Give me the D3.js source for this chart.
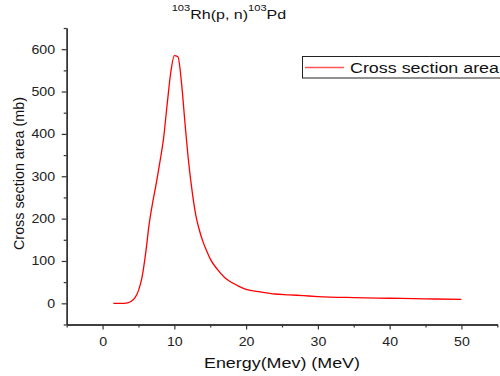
<!DOCTYPE html>
<html>
<head>
<meta charset="utf-8">
<script src="https://cdn.jsdelivr.net/npm/d3@7"></script>
<style>
  html, body { margin: 0; padding: 0; background: #fff; }
  svg { display: block; font-family: "Liberation Sans", Arial, sans-serif; }
</style>
</head>
<body>
<svg id="chart" width="500" height="376"></svg>
<script>
const energy = [1.5, 2, 3, 3.5, 4, 4.5, 5, 5.5, 6, 6.5, 7, 7.5, 8, 8.5, 9, 9.5, 10, 10.5, 11, 11.5, 12, 12.5, 13, 13.5, 14, 14.5, 15, 16, 17, 18, 19, 20, 22, 24, 26, 28, 30, 35, 40, 45, 50];
const crossSection = [0, 0, 0, 1, 5, 13, 30, 62, 118, 188, 240, 285, 335, 390, 470, 545, 585, 582, 520, 422, 332, 262, 207, 172, 145, 124, 105, 80, 61, 49, 40, 33, 27, 22, 20, 18, 16, 13.5, 12, 10.5, 9.5];
const xMajorTicks = [0, 10, 20, 30, 40, 50];
const xMinorTicks = [-5, 5, 15, 25, 35, 45, 55];
const yMajorTicks = [0, 100, 200, 300, 400, 500, 600];
const yMinorTicks = [-50, 50, 150, 250, 350, 450, 550, 650];
const titleParts = [["103", true], ["Rh(p, n)", false], ["103", true], ["Pd", false]];
const xTitle = "Energy(Mev) (MeV)";
const yTitle = "Cross section area (mb)";
const legendLabel = "Cross section area";

const svg = d3.select("#chart");
const SX = 1.18;
const axisColor = "#333";

const x = d3.scaleLinear().domain([-5, 55]).range([66.7, 497.3]);
const y = d3.scaleLinear().domain([-50, 650]).range([324.5, 28]);

// Axes
function styleAxis(g) {
  g.selectAll(".domain").attr("stroke", axisColor).attr("stroke-width", 1.4);
  g.selectAll(".tick line").attr("stroke", axisColor).attr("stroke-width", 1.2);
}

const yMinor = svg.append("g").attr("transform", `translate(${x(-5)},0)`)
  .call(d3.axisLeft(y).tickValues(yMinorTicks).tickSize(3).tickSizeOuter(0).tickFormat(""));
styleAxis(yMinor);
const yMajor = svg.append("g").attr("transform", `translate(${x(-5)},0)`)
  .call(d3.axisLeft(y).tickValues(yMajorTicks).tickSize(5).tickSizeOuter(0).tickPadding(6.5));
styleAxis(yMajor);
yMajor.selectAll(".tick text")
  .attr("font-size", 12).attr("font-family", "Liberation Sans, Arial, sans-serif")
  .attr("fill", "#222")
  .attr("x", -11.7 / SX)
  .attr("transform", `scale(${SX},1)`);

const xMinor = svg.append("g").attr("transform", `translate(0,${y(-50)})`)
  .call(d3.axisBottom(x).tickValues(xMinorTicks).tickSize(3).tickSizeOuter(0).tickFormat(""));
styleAxis(xMinor);
const xMajor = svg.append("g").attr("transform", `translate(0,${y(-50)})`)
  .call(d3.axisBottom(x).tickValues(xMajorTicks).tickSize(5).tickSizeOuter(0).tickPadding(7.5));
styleAxis(xMajor);
xMajor.selectAll(".tick text")
  .attr("font-size", 12).attr("font-family", "Liberation Sans, Arial, sans-serif")
  .attr("fill", "#222")
  .attr("transform", `scale(${SX},1)`);

// Curve
const line = d3.line()
  .x((d, i) => x(energy[i]))
  .y((d) => y(d))
  .curve(d3.curveMonotoneX);
svg.append("path")
  .datum(crossSection)
  .attr("d", line)
  .attr("fill", "none")
  .attr("stroke", "#ff0000")
  .attr("stroke-width", 1.3);

// Title
const title = svg.append("text")
  .attr("x", 171.7).attr("y", 19)
  .attr("textLength", 114.5)
  .attr("lengthAdjust", "spacingAndGlyphs")
  .attr("fill", "#111");
let sup = false;
titleParts.forEach(([t, isSup]) => {
  const ts = title.append("tspan").text(t).attr("font-size", isSup ? 9 : 13);
  if (isSup && !sup) ts.attr("dy", -8);
  if (!isSup && sup) ts.attr("dy", 8);
  sup = isSup;
});

// Axis titles
svg.append("text")
  .attr("x", 204).attr("y", 368)
  .attr("textLength", 156)
  .attr("lengthAdjust", "spacingAndGlyphs")
  .attr("font-size", 14)
  .attr("fill", "#111")
  .text(xTitle);

svg.append("text")
  .attr("transform", `translate(23.5,250) rotate(-90) scale(1,1.12)`)
  .attr("x", 0).attr("y", 0)
  .attr("textLength", 153)
  .attr("lengthAdjust", "spacingAndGlyphs")
  .attr("font-size", 13.5)
  .attr("fill", "#111")
  .text(yTitle);

// Legend
const lg = svg.append("g");
lg.append("rect")
  .attr("x", 302.5).attr("y", 56.5)
  .attr("width", 260).attr("height", 21.5)
  .attr("fill", "#fff")
  .attr("stroke", "#222").attr("stroke-width", 1);
lg.append("line")
  .attr("x1", 305).attr("x2", 344)
  .attr("y1", 67.5).attr("y2", 67.5)
  .attr("stroke", "#f55").attr("stroke-width", 1.3);
lg.append("text")
  .attr("x", 350).attr("y", 72.7)
  .attr("textLength", 149)
  .attr("lengthAdjust", "spacingAndGlyphs")
  .attr("font-size", 14)
  .attr("fill", "#111")
  .text(legendLabel);
</script>
</body>
</html>
